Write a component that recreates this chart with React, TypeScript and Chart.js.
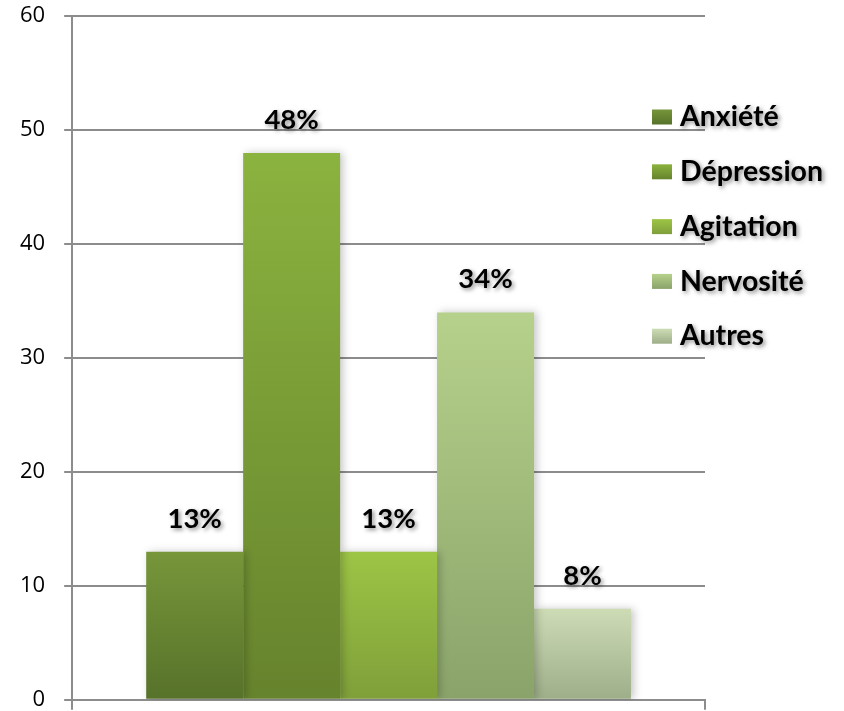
import React, { useEffect, useRef } from 'react';
import { Chart, registerables } from 'chart.js';

Chart.register(...registerables);

const categories = [''];
const seriesLabels = ['Anxiété', 'Dépression', 'Agitation', 'Nervosité', 'Autres'];
const seriesValues = [13, 48, 13, 34, 8];
const valueLabels = ['13%', '48%', '13%', '34%', '8%'];
const gradientTops = ['#77963a', '#8bb33f', '#9dc545', '#b6d18b', '#cddcb5'];
const gradientBottoms = ['#57722a', '#66832d', '#7f9f3a', '#8aa36a', '#9dae88'];
const yMin = 0;
const yMax = 60;
const yStep = 10;

const GRID = '#8c8c8c';
const SHIFT_X = 19;
const SHIFT_Y = 16;

function barGradient(chart: any, i: number, value: number) {
  const y = chart.scales && chart.scales.y;
  if (!y || !chart.chartArea) return gradientTops[i];
  const top = y.getPixelForValue(value);
  const bottom = y.getPixelForValue(0);
  const g = chart.ctx.createLinearGradient(0, top, 0, bottom);
  g.addColorStop(0, gradientTops[i]);
  g.addColorStop(1, gradientBottoms[i]);
  return g;
}

const shadowPlugin = {
  id: 'barShadow',
  beforeDatasetsDraw(chart: any) {
    const ctx = chart.ctx;
    ctx.save();
    ctx.shadowColor = 'rgba(0,0,0,0.22)';
    ctx.shadowBlur = 8;
    ctx.shadowOffsetX = 3;
    ctx.shadowOffsetY = 0;
  },
  afterDatasetsDraw(chart: any) {
    chart.ctx.restore();
  },
};

const labelsPlugin = {
  id: 'valueLabels',
  afterDatasetsDraw(chart: any) {
    const ctx = chart.ctx;
    ctx.save();
    ctx.font = 'bold 27.5px Lato';
    ctx.fillStyle = '#000';
    ctx.textAlign = 'center';
    ctx.textBaseline = 'middle';
    ctx.shadowColor = 'rgba(0,0,0,0.45)';
    ctx.shadowBlur = 4;
    ctx.shadowOffsetX = 2;
    ctx.shadowOffsetY = 2;
    chart.data.datasets.forEach((ds: any, i: number) => {
      const meta = chart.getDatasetMeta(i);
      meta.data.forEach((bar: any) => {
        ctx.fillText(valueLabels[i], bar.x, bar.y - 33);
      });
    });
    ctx.restore();
  },
};

const legendPlugin = {
  id: 'sideLegend',
  afterDraw(chart: any) {
    const ctx = chart.ctx;
    const x0 = 652 + SHIFT_X;
    const y0 = 117 + SHIFT_Y;
    const step = 54.8;
    ctx.save();
    chart.data.datasets.forEach((ds: any, i: number) => {
      const cy = y0 + i * step;
      const g = ctx.createLinearGradient(0, cy - 7.5, 0, cy + 7.5);
      g.addColorStop(0, gradientTops[i]);
      g.addColorStop(1, gradientBottoms[i]);
      ctx.fillStyle = g;
      ctx.fillRect(x0, cy - 7.5, 20, 15);
      ctx.save();
      ctx.font = 'bold 28.5px Lato';
      ctx.fillStyle = '#000';
      ctx.textAlign = 'left';
      ctx.textBaseline = 'middle';
      ctx.shadowColor = 'rgba(0,0,0,0.45)';
      ctx.shadowBlur = 4;
      ctx.shadowOffsetX = 2;
      ctx.shadowOffsetY = 2;
      ctx.fillText(ds.label, 680 + SHIFT_X, cy);
      ctx.restore();
    });
    ctx.restore();
  },
};

export default function App() {
  const ref = useRef<HTMLCanvasElement | null>(null);
  useEffect(() => {
    if (!ref.current) return;
    const chart = new Chart(ref.current, {
      type: 'bar',
      data: {
        labels: categories,
        datasets: seriesLabels.map((label, i) => ({
          label,
          data: [seriesValues[i]],
          backgroundColor: (c: any) => barGradient(c.chart, i, seriesValues[i]),
          borderWidth: 0,
          barPercentage: 1,
          categoryPercentage: 0.766,
        })),
      },
      options: {
        animation: false,
        responsive: true,
        maintainAspectRatio: false,
        layout: { padding: { left: 20, right: 139, top: 3, bottom: 0 } },
        plugins: {
          legend: { display: false },
          tooltip: { enabled: false },
        },
        scales: {
          x: {
            offset: true,
            ticks: { display: false },
            grid: {
              display: true,
              offset: true,
              drawOnChartArea: false,
              drawTicks: true,
              tickLength: 10,
              color: GRID,
              lineWidth: 2,
            },
            border: { display: true, color: GRID, width: 2 },
          },
          y: {
            min: yMin,
            max: yMax,
            ticks: {
              stepSize: yStep,
              padding: 19,
              color: '#000',
              font: { family: 'Open Sans', size: 22 },
            },
            grid: {
              color: GRID,
              lineWidth: 2,
              tickLength: 8,
            },
            border: { display: true, color: GRID, width: 2 },
          },
        },
      },
      plugins: [shadowPlugin, labelsPlugin, legendPlugin],
    });
    return () => chart.destroy();
  }, []);
  return (
    <div style={{ position: 'absolute', left: 0, top: 0, width: 844, height: 711, overflow: 'hidden', background: '#fff' }}>
      <div style={{ position: 'absolute', left: -SHIFT_X, top: -SHIFT_Y, width: 844 + SHIFT_X, height: 711 + SHIFT_Y + 21 }}>
        <canvas ref={ref} />
      </div>
    </div>
  );
}
